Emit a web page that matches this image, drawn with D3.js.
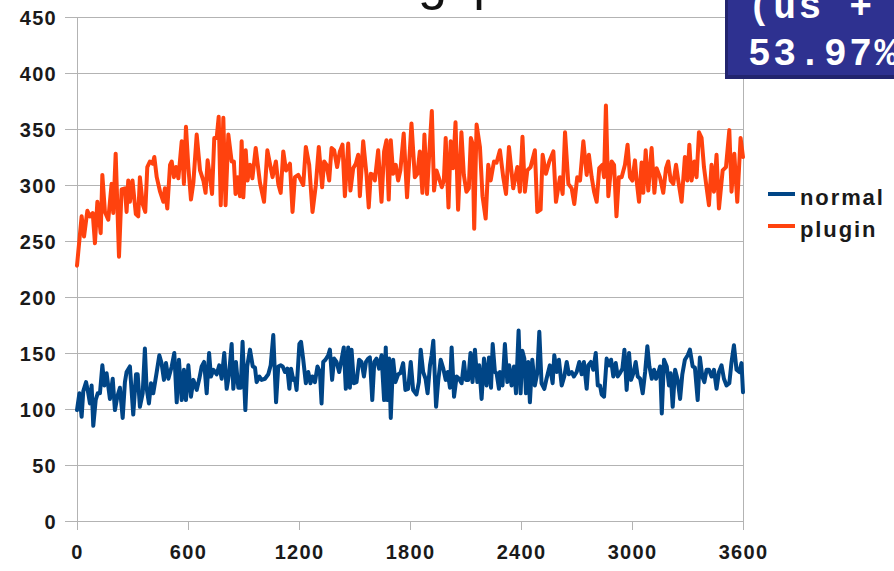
<!DOCTYPE html>
<html>
<head>
<meta charset="utf-8">
<script src="https://cdn.jsdelivr.net/npm/d3@7"></script>
<style>
  body { margin: 0; background: #fff; }
  .tick-label { font-family: "Liberation Sans", Arial, sans-serif; font-weight: bold; font-size: 20px; fill: #1a1a1a; letter-spacing: 1.3px; }
  .legend-text { font-family: "Liberation Sans", Arial, sans-serif; font-weight: bold; font-size: 22px; fill: #1a1a1a; letter-spacing: 1.9px; }
  .note-text { font-family: "Liberation Mono", "Courier New", monospace; font-weight: bold; font-size: 38px; fill: #fff; letter-spacing: 2.5px; }
</style>
</head>
<body>
<div id="wrapper"></div>
<script>
const seriesNames = ["normal", "plugin"]
const seriesColors = ["#004586", "#ff420e"]
const xTicks = [0, 600, 1200, 1800, 2400, 3000, 3600]
const yTicks = [0, 50, 100, 150, 200, 250, 300, 350, 400, 450]
const noteLines = ["(us +", "53.97%"]

// [time, value] readings
const normalPoints = [[0,99],[13,114],[25,93],[34,116],[49,124],[61,114],[70,105],[79,121],[88,85],[101,108],[112,114],[124,114],[137,139],[148,121],[160,132],[178,109],[193,127],[205,99],[218,111],[232,119],[247,92],[259,124],[268,133],[286,138],[304,95],[319,131],[328,131],[340,102],[355,114],[367,154],[376,119],[389,105],[400,123],[412,114],[430,132],[445,148],[457,141],[470,126],[481,141],[494,127],[512,138],[526,150],[539,106],[551,144],[566,108],[578,135],[589,108],[602,139],[616,111],[629,126],[647,117],[661,127],[674,138],[687,142],[701,114],[714,150],[724,129],[737,135],[755,131],[769,139],[782,127],[796,150],[809,118],[822,131],[836,158],[845,118],[859,142],[872,119],[885,119],[895,160],[910,99],[920,138],[935,153],[950,138],[962,137],[971,124],[986,129],[998,126],[1016,127],[1034,131],[1047,139],[1061,166],[1076,106],[1088,138],[1101,139],[1112,138],[1124,133],[1137,136],[1148,118],[1157,136],[1169,126],[1178,127],[1187,117],[1202,158],[1211,160],[1223,144],[1237,123],[1250,133],[1262,123],[1273,129],[1286,124],[1300,138],[1313,133],[1322,105],[1331,142],[1343,144],[1358,148],[1367,153],[1379,126],[1390,145],[1403,142],[1417,133],[1430,144],[1442,155],[1453,118],[1466,155],[1475,119],[1484,153],[1497,123],[1511,124],[1525,144],[1538,142],[1551,129],[1562,142],[1574,145],[1583,146],[1596,108],[1607,142],[1619,145],[1633,136],[1646,148],[1660,108],[1669,155],[1676,108],[1687,145],[1696,92],[1709,144],[1721,124],[1736,131],[1748,132],[1763,141],[1775,117],[1790,118],[1804,142],[1817,117],[1835,113],[1848,124],[1858,153],[1871,133],[1884,127],[1895,114],[1908,139],[1917,148],[1926,161],[1941,102],[1953,126],[1966,144],[1980,136],[1993,126],[2004,133],[2016,119],[2025,155],[2038,111],[2052,129],[2065,127],[2079,123],[2092,142],[2102,126],[2115,126],[2127,150],[2138,124],[2151,153],[2164,124],[2174,139],[2187,109],[2200,145],[2214,121],[2227,146],[2238,119],[2247,158],[2259,133],[2268,132],[2281,118],[2286,133],[2300,121],[2313,158],[2326,124],[2336,139],[2349,121],[2362,138],[2373,114],[2387,170],[2398,114],[2407,152],[2418,145],[2427,114],[2439,142],[2448,106],[2461,144],[2475,121],[2488,132],[2499,169],[2511,123],[2526,118],[2538,127],[2556,139],[2571,123],[2580,148],[2593,133],[2605,144],[2620,121],[2634,129],[2647,142],[2659,131],[2674,133],[2686,129],[2701,133],[2715,142],[2728,131],[2740,142],[2755,118],[2764,139],[2778,142],[2791,135],[2804,150],[2815,121],[2827,121],[2836,113],[2849,111],[2863,145],[2876,139],[2887,144],[2899,129],[2912,141],[2923,129],[2935,132],[2948,136],[2959,153],[2971,117],[2984,150],[2995,126],[3008,132],[3020,142],[3031,129],[3044,127],[3058,114],[3071,133],[3083,156],[3094,138],[3107,127],[3119,135],[3130,127],[3143,133],[3152,138],[3161,96],[3173,144],[3188,138],[3200,121],[3209,132],[3220,102],[3233,135],[3247,126],[3260,109],[3272,131],[3286,144],[3301,148],[3313,153],[3328,138],[3340,137],[3355,108],[3367,146],[3380,129],[3391,124],[3403,135],[3416,135],[3430,129],[3443,135],[3457,118],[3470,133],[3484,139],[3497,127],[3511,121],[3526,123],[3538,142],[3551,157],[3565,135],[3580,133],[3592,141],[3600,115]]

const pluginPoints = [[0,228],[25,272],[38,254],[56,277],[70,272],[85,275],[97,248],[110,285],[128,257],[137,309],[151,276],[169,269],[187,301],[196,275],[209,328],[227,236],[241,296],[259,297],[268,276],[277,304],[286,285],[300,304],[318,274],[331,272],[340,307],[355,283],[369,276],[380,316],[394,321],[409,319],[418,325],[431,307],[449,294],[467,285],[475,297],[488,279],[503,318],[512,321],[524,307],[535,316],[548,306],[566,339],[578,301],[589,352],[602,316],[616,287],[629,302],[647,345],[665,313],[683,304],[695,293],[706,322],[719,307],[730,292],[742,342],[755,342],[766,361],[777,282],[791,360],[803,282],[818,345],[836,321],[848,321],[857,292],[868,307],[881,290],[890,339],[899,289],[912,331],[922,304],[935,318],[948,306],[966,333],[989,302],[1011,285],[1029,331],[1044,318],[1057,307],[1075,321],[1088,301],[1101,293],[1115,330],[1130,313],[1151,319],[1165,276],[1178,307],[1196,309],[1223,300],[1237,334],[1255,318],[1273,276],[1291,300],[1307,334],[1325,298],[1336,321],[1349,318],[1363,304],[1376,333],[1390,331],[1406,316],[1421,330],[1435,336],[1448,290],[1466,337],[1478,295],[1493,315],[1507,319],[1520,327],[1529,290],[1547,339],[1565,309],[1577,280],[1588,310],[1601,309],[1610,304],[1628,331],[1646,285],[1660,330],[1673,340],[1685,287],[1696,340],[1709,310],[1723,318],[1736,304],[1748,313],[1766,346],[1784,289],[1808,355],[1826,307],[1840,310],[1853,330],[1867,293],[1878,345],[1892,292],[1903,325],[1918,366],[1930,295],[1943,313],[1957,306],[1972,298],[1983,304],[1993,342],[2008,280],[2020,339],[2033,315],[2046,356],[2060,278],[2078,347],[2091,309],[2105,294],[2118,297],[2129,342],[2138,337],[2147,261],[2160,354],[2178,334],[2192,290],[2209,270],[2223,318],[2236,304],[2254,321],[2268,320],[2286,331],[2304,307],[2319,292],[2335,334],[2358,297],[2380,316],[2394,294],[2408,343],[2421,294],[2434,313],[2452,316],[2475,331],[2488,276],[2506,278],[2517,327],[2535,310],[2553,321],[2575,330],[2589,285],[2611,307],[2625,292],[2638,347],[2656,301],[2674,297],[2688,283],[2704,307],[2719,304],[2737,339],[2755,309],[2767,327],[2782,307],[2795,294],[2809,285],[2823,315],[2840,318],[2849,307],[2859,371],[2872,290],[2890,321],[2903,318],[2916,272],[2929,307],[2944,307],[2962,318],[2976,336],[2989,307],[3002,304],[3016,322],[3025,304],[3038,285],[3052,320],[3061,293],[3074,331],[3088,295],[3106,333],[3121,293],[3133,315],[3151,307],[3169,293],[3184,315],[3196,321],[3209,304],[3223,301],[3238,318],[3250,304],[3268,285],[3286,325],[3299,304],[3310,336],[3322,304],[3337,321],[3349,307],[3362,347],[3376,342],[3389,316],[3403,298],[3416,282],[3430,318],[3443,294],[3457,327],[3470,279],[3490,313],[3508,316],[3526,349],[3538,294],[3553,328],[3569,285],[3587,342],[3600,325]]

function drawChart() {
  const dimensions = {
    width: 894,
    height: 571,
    margin: { top: 17, right: 151, bottom: 50, left: 77 }
  }
  dimensions.boundedWidth = dimensions.width - dimensions.margin.left - dimensions.margin.right
  dimensions.boundedHeight = dimensions.height - dimensions.margin.top - dimensions.margin.bottom

  const wrapper = d3.select("#wrapper")
    .append("svg")
      .attr("width", dimensions.width)
      .attr("height", dimensions.height)

  // title, mostly cut off at the top
  wrapper.append("text")
    .text("g p")
    .attr("x", 418)
    .attr("y", -1)
    .style("font-family", "Liberation Sans, Arial, sans-serif")
    .style("font-size", "52px")
    .style("letter-spacing", "6px")
    .style("fill", "#111")

  const bounds = wrapper.append("g")
    .attr("transform", `translate(${dimensions.margin.left}, ${dimensions.margin.top})`)

  const xScale = d3.scaleLinear()
    .domain([0, 3600])
    .range([0, dimensions.boundedWidth])

  const yScale = d3.scaleLinear()
    .domain([0, 450])
    .range([dimensions.boundedHeight, 0])

  // left ticks + labels
  const yAxisGenerator = d3.axisLeft(yScale)
    .tickValues(yTicks)
    .tickSize(12)
    .tickFormat(d3.format("d"))

  const yAxis = bounds.append("g").call(yAxisGenerator)
  yAxis.select(".domain").remove()
  yAxis.selectAll(".tick").attr("transform", d => `translate(0, ${Math.round(yScale(d)) + 0.5})`)
  yAxis.selectAll(".tick line").attr("stroke", "#b3b3b3")
  yAxis.selectAll(".tick text")
    .attr("class", "tick-label")
    .attr("x", -20)
    .attr("dy", "0.36em")

  // gridlines
  bounds.append("g")
    .selectAll("line")
    .data(yTicks)
    .join("line")
      .attr("x1", 0)
      .attr("x2", dimensions.boundedWidth)
      .attr("y1", d => Math.round(yScale(d)) + 0.5)
      .attr("y2", d => Math.round(yScale(d)) + 0.5)
      .attr("stroke", "#b3b3b3")

  const xAxisGenerator = d3.axisBottom(xScale)
    .tickValues(xTicks)
    .tickSize(9)
    .tickFormat(d3.format("d"))

  const xAxis = bounds.append("g")
    .attr("transform", `translate(0, ${dimensions.boundedHeight})`)
    .call(xAxisGenerator)
  xAxis.select(".domain").remove()
  xAxis.selectAll(".tick line").attr("stroke", "#b3b3b3")
  xAxis.selectAll(".tick text")
    .attr("class", "tick-label")
    .attr("y", 38)
    .attr("dy", 0)

  // left axis line and right frame line
  bounds.append("line")
    .attr("x1", 0.5).attr("x2", 0.5)
    .attr("y1", 0).attr("y2", dimensions.boundedHeight)
    .attr("stroke", "#b3b3b3")
  bounds.append("line")
    .attr("x1", dimensions.boundedWidth + 0.5).attr("x2", dimensions.boundedWidth + 0.5)
    .attr("y1", 0).attr("y2", dimensions.boundedHeight)
    .attr("stroke", "#b3b3b3")

  const lineGenerator = d3.line()
    .x(d => xScale(d[0]))
    .y(d => yScale(d[1]))

  const allSeries = [normalPoints, pluginPoints]
  allSeries.forEach((points, i) => {
    bounds.append("path")
      .datum(points)
      .attr("d", lineGenerator)
      .attr("fill", "none")
      .attr("stroke", seriesColors[i])
      .attr("stroke-width", 4)
      .attr("stroke-linejoin", "round")
      .attr("stroke-linecap", "round")
  })

  // legend
  const legend = wrapper.append("g")
  seriesNames.forEach((name, i) => {
    const ly = 194 + i * 32
    legend.append("line")
      .attr("x1", 768).attr("x2", 795)
      .attr("y1", ly).attr("y2", ly)
      .attr("stroke", seriesColors[i])
      .attr("stroke-width", 4)
    legend.append("text")
      .attr("class", "legend-text")
      .attr("x", 800)
      .attr("y", ly + 11)
      .text(name)
  })

  // note box in the top right corner
  const note = wrapper.append("g")
  note.append("rect")
    .attr("x", 725).attr("y", -10)
    .attr("width", 200).attr("height", 89)
    .attr("fill", "#22246e")
  note.append("rect")
    .attr("x", 728).attr("y", -10)
    .attr("width", 200).attr("height", 85)
    .attr("fill", "#2e3190")
  note.selectAll(".note-text")
    .data(noteLines)
    .join("text")
      .attr("class", "note-text")
      .attr("x", 748)
      .attr("y", (d, i) => 18 + i * 47)
      .text(d => d)
}

drawChart()
</script>
</body>
</html>
